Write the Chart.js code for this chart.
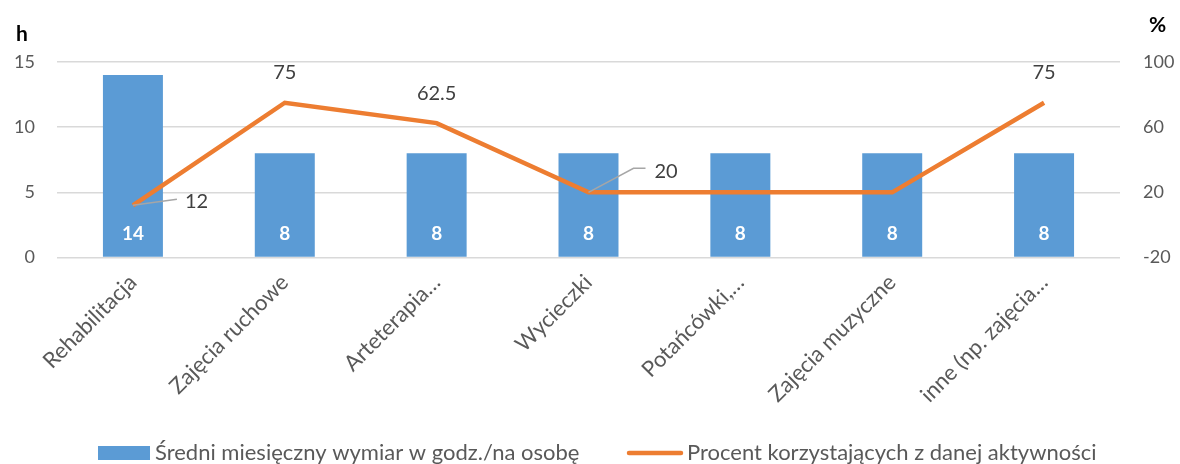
<!DOCTYPE html>
<html>
<head>
<meta charset="utf-8">
<script src="https://cdn.jsdelivr.net/npm/chart.js@4/dist/chart.umd.min.js"></script>
<style>
  html, body { margin: 0; padding: 0; background: #fff; }
  #wrap { width: 1180px; height: 464px; position: relative; }
</style>
</head>
<body>
<div id="wrap"><canvas id="combo-canvas"></canvas></div>
<script>
const categories = ['Rehabilitacja', 'Zajęcia ruchowe', 'Arteterapia…', 'Wycieczki', 'Potańcówki,…', 'Zajęcia muzyczne', 'inne (np. zajęcia…']
const hoursPerPerson = [14, 8, 8, 8, 8, 8, 8]
const percentUsing = [12, 75, 62.5, 20, 20, 20, 75]
const hoursTicks = [0, 5, 10, 15]
const percentTicks = [-20, 20, 60, 100]
const seriesNames = ['Średni miesięczny wymiar w godz./na osobę', 'Procent korzystających z danej aktywności']
// where the line value labels go (null = no label)
const lineLabelPlace = ['leader-right', 'above', 'above', 'leader-up', null, null, 'above']

const BAR_COLOR = '#5B9BD5'
const LINE_COLOR = '#ED7D31'
const TEXT_GRAY = '#595959'
const FONT = 'Lato'

const labelsPlugin = {
  id: 'labels',
  afterDatasetsDraw(chart){
    const ctx = chart.ctx
    ctx.save()
    // bar values, white bold near the bottom
    const barMeta = chart.getDatasetMeta(0)
    ctx.fillStyle = '#fff'
    ctx.font = 'bold 19px ' + FONT
    ctx.textAlign = 'center'
    ctx.textBaseline = 'middle'
    barMeta.data.forEach((bar, i) => {
      ctx.fillText(String(hoursPerPerson[i]), bar.x, chart.chartArea.bottom - 24)
    })
    // line values
    const lineMeta = chart.getDatasetMeta(1)
    ctx.font = '20px ' + FONT
    ctx.fillStyle = '#404040'
    ctx.strokeStyle = '#A6A6A6'
    ctx.lineWidth = 1.5
    lineMeta.data.forEach((pt, i) => {
      const place = lineLabelPlace[i]
      const txt = String(percentUsing[i])
      if(place == 'above'){
        ctx.textAlign = 'center'
        ctx.fillText(txt, pt.x, pt.y - 30)
      } else if(place == 'leader-right'){
        ctx.beginPath()
        ctx.moveTo(pt.x, pt.y)
        ctx.lineTo(pt.x + 44, pt.y - 6)
        ctx.stroke()
        ctx.textAlign = 'left'
        ctx.fillText(txt, pt.x + 52, pt.y - 4)
      } else if(place == 'leader-up'){
        ctx.beginPath()
        ctx.moveTo(pt.x, pt.y)
        ctx.lineTo(pt.x + 45, pt.y - 24)
        ctx.lineTo(pt.x + 57, pt.y - 24)
        ctx.stroke()
        ctx.textAlign = 'left'
        ctx.fillText(txt, pt.x + 66, pt.y - 21)
      }
    })
    ctx.restore()
  },
  afterDraw(chart){
    const ctx = chart.ctx
    ctx.save()
    // axis unit titles
    ctx.fillStyle = '#000'
    ctx.font = 'bold 21px ' + FONT
    ctx.textBaseline = 'alphabetic'
    ctx.textAlign = 'left'
    ctx.fillText('h', 16, 41)
    ctx.fillText('%', 1149, 32)
    // legend
    const y = 453
    ctx.fillStyle = BAR_COLOR
    ctx.fillRect(98, y - 7, 52, 14)
    ctx.strokeStyle = LINE_COLOR
    ctx.lineWidth = 4.5
    ctx.lineCap = 'round'
    ctx.beginPath()
    ctx.moveTo(629, y)
    ctx.lineTo(681, y)
    ctx.stroke()
    ctx.fillStyle = TEXT_GRAY
    ctx.font = '22px ' + FONT
    ctx.textBaseline = 'middle'
    ctx.fillText(seriesNames[0], 155, y)
    ctx.fillText(seriesNames[1], 687, y)
    ctx.restore()
  }
}

new Chart(document.getElementById('combo-canvas'), {
  data: {
    labels: categories,
    datasets: [{
      type: 'bar',
      label: seriesNames[0],
      data: hoursPerPerson,
      backgroundColor: BAR_COLOR,
      yAxisID: 'yHours',
      categoryPercentage: 1.0,
      barPercentage: 0.395,
      order: 2
    }, {
      type: 'line',
      label: seriesNames[1],
      data: percentUsing,
      borderColor: LINE_COLOR,
      backgroundColor: LINE_COLOR,
      borderWidth: 4.5,
      pointRadius: 0,
      tension: 0,
      yAxisID: 'yPercent',
      order: 1
    }]
  },
  options: {
    responsive: true,
    maintainAspectRatio: false,
    animation: false,
    layout: { padding: { top: 62, bottom: 44, left: 0, right: 0 } },
    plugins: {
      legend: { display: false },
      tooltip: { enabled: false }
    },
    scales: {
      x: {
        grid: { display: false },
        border: { display: false },
        ticks: {
          color: TEXT_GRAY,
          font: { family: FONT, size: 22 },
          minRotation: 45,
          maxRotation: 45,
          padding: 4,
          autoSkip: false
        },
        afterFit: (scale) => { scale.height = 162.5 }
      },
      yHours: {
        position: 'left',
        min: hoursTicks[0],
        max: hoursTicks[hoursTicks.length - 1],
        grid: { color: '#D9D9D9', lineWidth: 1.5, drawTicks: false },
        border: { display: false },
        ticks: {
          stepSize: hoursTicks[1] - hoursTicks[0],
          color: TEXT_GRAY,
          font: { family: FONT, size: 18 },
          padding: 22
        },
        afterFit: (scale) => { scale.width = 57 }
      },
      yPercent: {
        position: 'right',
        min: percentTicks[0],
        max: percentTicks[percentTicks.length - 1],
        grid: { display: false, drawTicks: false },
        border: { display: false },
        ticks: {
          stepSize: percentTicks[1] - percentTicks[0],
          color: TEXT_GRAY,
          font: { family: FONT, size: 18 },
          padding: 23
        },
        afterFit: (scale) => { scale.width = 60 }
      }
    }
  },
  plugins: [labelsPlugin]
})
</script>
</body>
</html>
